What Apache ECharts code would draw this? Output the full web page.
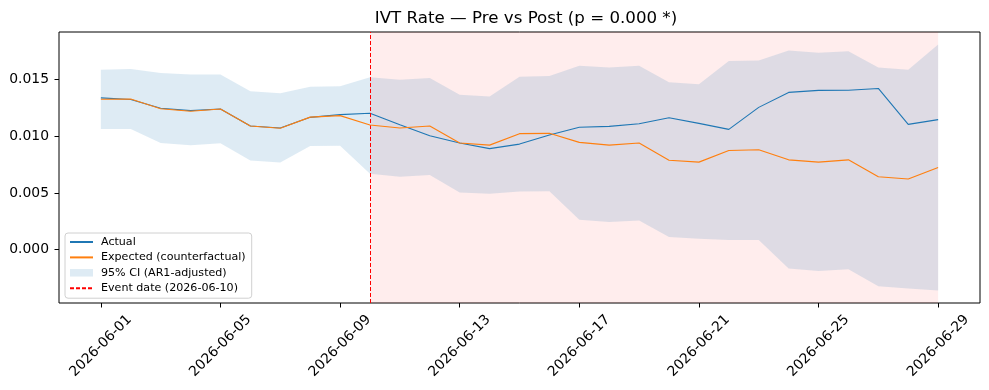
<!DOCTYPE html>
<html>
<head>
<meta charset="utf-8">
<script src="https://cdn.jsdelivr.net/npm/echarts@6/dist/echarts.min.js"></script>
<style>html,body{margin:0;padding:0;background:#fff}#c{width:989px;height:390px}</style>
</head>
<body>
<div id="c"></div>
<script>
const dates = ['2026-06-01','2026-06-02','2026-06-03','2026-06-04','2026-06-05','2026-06-06','2026-06-07','2026-06-08','2026-06-09','2026-06-10',
  '2026-06-11','2026-06-12','2026-06-13','2026-06-14','2026-06-15','2026-06-16','2026-06-17','2026-06-18','2026-06-19','2026-06-20',
  '2026-06-21','2026-06-22','2026-06-23','2026-06-24','2026-06-25','2026-06-26','2026-06-27','2026-06-28','2026-06-29'];
const actual = [0.0134,0.01325,0.01248,0.01227,0.01242,0.01092,0.01074,0.01168,0.01192,0.01204,
  0.01103,0.01006,0.00941,0.00892,0.00932,0.01012,0.0108,0.01088,0.01112,0.01165,
  0.01115,0.01062,0.01256,0.01388,0.01406,0.01407,0.01423,0.01106,0.01148];
const expected = [0.01328,0.0133,0.01244,0.01222,0.01242,0.01092,0.01072,0.0117,0.01183,0.01101,
  0.01074,0.01092,0.00941,0.00923,0.01024,0.01027,0.00947,0.00923,0.00941,0.0079,
  0.00773,0.00876,0.00882,0.00793,0.00773,0.00793,0.00644,0.00624,0.00726];
const ciUpper = [0.01589,0.01595,0.01559,0.01547,0.01547,0.01398,0.0138,0.01439,0.01442,0.01522,
  0.015,0.01515,0.01368,0.01353,0.01527,0.01532,0.01623,0.01607,0.01623,0.01477,
  0.01459,0.01665,0.0167,0.01758,0.01738,0.01752,0.01608,0.01588,0.0181];
const ciLower = [0.01065,0.01065,0.00942,0.00921,0.00939,0.00788,0.0077,0.00915,0.00918,0.0067,
  0.00644,0.00659,0.00505,0.00494,0.00514,0.00516,0.00264,0.00244,0.00258,0.00112,
  0.00097,0.00086,0.00086,-0.00165,-0.00188,-0.00173,-0.00323,-0.00341,-0.00359];
const eventDate = '2026-06-10';
const xTickLabels = ['2026-06-01','2026-06-05','2026-06-09','2026-06-13','2026-06-17','2026-06-21','2026-06-25','2026-06-29'];
const yTickValues = [0.000, 0.005, 0.010, 0.015];

const FONT = 'DejaVu Sans';
const idx = d => dates.indexOf(d);
const pts = arr => arr.map((v, i) => [i, v]);
const eventIdx = idx(eventDate);
const lastIdx = dates.length - 1;
const BAND = 'rgba(31,119,180,0.15)';

const chart = echarts.init(document.getElementById('c'), null, {renderer: 'canvas'});
chart.setOption({
  animation: false,
  backgroundColor: '#fff',
  title: {
    text: 'IVT Rate \u2014 Pre vs Post (p = 0.000 *)',
    left: 521, top: 5, textAlign: 'center',
    textStyle: {fontFamily: FONT, fontSize: 16.67, fontWeight: 'normal', color: '#000'}
  },
  grid: {left: 59, right: 9, top: 32, bottom: 87, show: true, borderColor: '#000', borderWidth: 1, backgroundColor: 'transparent'},
  xAxis: {
    type: 'value', min: -1.4, max: 29.4,
    axisLine: {show: false, onZero: false},
    splitLine: {show: false},
    axisTick: {show: true, length: 4.5, lineStyle: {color: '#000', width: 1}, customValues: xTickLabels.map(idx)},
    axisLabel: {
      customValues: xTickLabels.map(idx),
      formatter: v => dates[Math.round(v)],
      rotate: 45, align: 'center', verticalAlign: 'middle', margin: 43,
      fontFamily: FONT, fontSize: 13.9, color: '#000'
    }
  },
  yAxis: {
    type: 'value', min: -0.0047, max: 0.01921,
    axisLine: {show: false, onZero: false},
    splitLine: {show: false},
    axisTick: {show: true, length: 4.5, lineStyle: {color: '#000', width: 1}, customValues: yTickValues},
    axisLabel: {
      customValues: yTickValues,
      formatter: v => v.toFixed(3),
      margin: 10, fontFamily: FONT, fontSize: 13.9, color: '#000'
    }
  },
  legend: {
    orient: 'vertical', left: 65, top: 233,
    padding: [3, 6, 4, 4],
    itemWidth: 23, itemHeight: 7.5, itemGap: 3.4,
    backgroundColor: 'rgba(255,255,255,0.8)', borderColor: '#d0d0d0', borderWidth: 1, borderRadius: 3,
    textStyle: {fontFamily: FONT, fontSize: 11.1, color: '#000', lineHeight: 12, padding: [0, 0, 0, 3]},
    data: [
      {name: 'Actual', itemStyle: {opacity: 0}},
      {name: 'Expected (counterfactual)', itemStyle: {opacity: 0}},
      {name: '95% CI (AR1-adjusted)', icon: 'rect', itemStyle: {color: BAND}},
      {name: 'Event date (2026-06-10)', itemStyle: {opacity: 0}}
    ]
  },
  series: [
    {
      name: '95% CI (AR1-adjusted)', type: 'custom', silent: true, z: 2,
      itemStyle: {color: BAND},
      data: ciLower.map((v, i) => [i, v, ciUpper[i]]),
      encode: {x: 0, y: [1, 2]},
      renderItem: (params, api) => {
        if (params.dataIndex !== 0) return null;
        const top = ciUpper.map((v, i) => api.coord([i, v]));
        const bot = ciLower.map((v, i) => api.coord([i, v])).reverse();
        return {type: 'polygon', shape: {points: top.concat(bot)}, style: {fill: BAND, stroke: null}};
      },
      markArea: {
        silent: true,
        itemStyle: {color: 'rgba(255,0,0,0.07)'},
        data: [[{xAxis: eventIdx}, {xAxis: lastIdx}]]
      }
    },
    {
      name: 'Event date (2026-06-10)', type: 'line', data: [], symbol: 'none',
      lineStyle: {color: '#ff0000', width: 1, type: [4, 2]}, itemStyle: {color: '#ff0000'},
      markLine: {
        silent: true, symbol: 'none', label: {show: false},
        lineStyle: {color: '#ff0000', width: 1, type: [4, 2]},
        data: [{xAxis: eventIdx}]
      }
    },
    {
      name: 'Actual', type: 'line', data: pts(actual), symbol: 'none',
      lineStyle: {color: '#1f77b4', width: 1.1}, itemStyle: {color: '#1f77b4'}, z: 4
    },
    {
      name: 'Expected (counterfactual)', type: 'line', data: pts(expected), symbol: 'none',
      lineStyle: {color: '#ff7f0e', width: 1.1}, itemStyle: {color: '#ff7f0e'}, z: 5
    }
  ]
});
</script>
</body>
</html>
